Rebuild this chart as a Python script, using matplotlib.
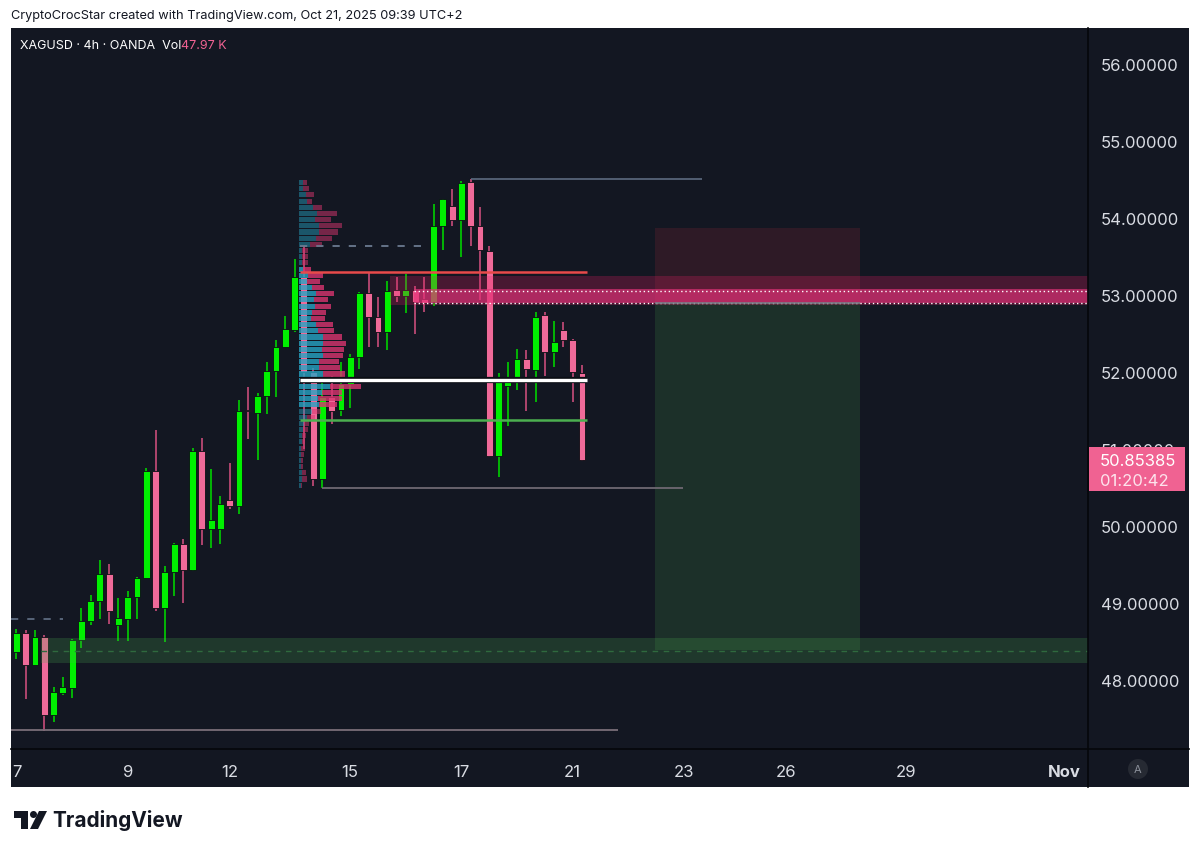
import numpy as np
import matplotlib
matplotlib.use("Agg")
import matplotlib.pyplot as plt
from matplotlib.patches import Rectangle, Polygon
from matplotlib.transforms import blended_transform_factory

plt.rcParams["font.family"] = ["Inter", "DejaVu Sans"]

# --- candles (4h XAGUSD), index 0 = Oct 7 ---
opens = [48.36, 48.61, 48.20, 48.56, 47.54, 47.83, 47.90, 48.52, 48.77, 49.03,
         49.38, 48.72, 48.79, 49.08, 49.33, 50.71, 48.94, 49.40, 49.77, 49.43,
         50.97, 49.96, 49.96, 50.34, 50.26, 51.51, 51.47, 51.69, 52.01, 52.33,
         52.55, 53.24, 52.00, 50.61, 51.68, 51.51, 51.84, 52.20, 53.02, 52.72,
         52.52, 53.07, 52.99, 53.07, 52.95, 52.91, 53.90, 54.15, 53.97, 54.47,
         53.89, 53.57, 50.91, 51.82, 51.94, 52.17, 52.03, 52.74, 52.26, 52.54,
         52.41, 51.99]
highs = [48.66, 48.65, 48.65, 48.58, 47.91, 48.04, 48.53, 48.94, 49.10, 49.56,
         49.51, 49.07, 49.15, 49.34, 50.75, 51.25, 49.48, 49.78, 49.83, 51.01,
         51.14, 50.74, 50.39, 50.82, 51.63, 51.80, 51.73, 52.13, 52.42, 52.73,
         53.47, 53.64, 52.05, 51.94, 51.95, 52.13, 52.23, 53.04, 53.30, 52.97,
         53.18, 53.23, 53.27, 53.12, 53.23, 54.18, 54.25, 54.38, 54.48, 54.50,
         54.14, 53.63, 51.99, 52.13, 52.30, 52.29, 52.78, 52.78, 52.66, 52.65,
         52.43, 52.09]
lows = [48.27, 47.75, 48.20, 47.34, 47.45, 47.81, 47.76, 48.41, 48.71, 48.79,
        48.73, 48.51, 48.51, 48.79, 49.32, 48.89, 48.50, 49.09, 49.00, 49.42,
        49.75, 49.71, 49.77, 50.22, 50.16, 51.13, 50.86, 51.45, 51.67, 52.32,
        52.52, 51.00, 50.52, 50.49, 51.32, 51.43, 51.53, 52.04, 52.32, 52.32,
        52.29, 52.91, 52.77, 52.50, 52.78, 52.86, 53.58, 53.89, 53.49, 53.63,
        52.93, 50.89, 50.63, 51.30, 51.76, 51.49, 51.61, 51.95, 52.07, 52.32,
        51.61, 50.85]
closes = [48.61, 48.20, 48.56, 47.54, 47.84, 47.91, 48.52, 48.77, 49.03, 49.38,
          48.89, 48.80, 49.08, 49.33, 50.71, 48.93, 49.40, 49.77, 49.43, 50.97,
          49.96, 50.08, 50.29, 50.26, 51.50, 51.49, 51.69, 52.01, 52.33, 52.56,
          53.24, 52.00, 50.61, 51.67, 51.49, 51.84, 52.20, 53.02, 52.72, 52.52,
          53.05, 52.99, 53.07, 52.91, 52.90, 53.89, 54.25, 53.97, 54.46, 53.89,
          53.58, 50.91, 51.92, 51.94, 52.17, 52.04, 52.72, 52.26, 52.39, 52.41,
          52.00, 50.854]
last_price = "50.85385"
countdown = "01:20:42"

tick_pos = [0, 12, 23, 36, 48, 60, 72, 83, 96, 113]
tick_lab = ["7", "9", "12", "15", "17", "21", "23", "26", "29", "Nov"]
price_ticks = [48, 49, 50, 51, 52, 53, 54, 55, 56]

# --- fixed range volume profile (rows top -> bottom) ---
vp_low, vp_high = 50.49, 54.50
vp_up = [10, 10, 20, 22, 40, 54, 47, 60, 60, 50, 32, 7, 7, 7, 12, 27, 22, 37, 50, 44,
         47, 37, 34, 50, 57, 70, 72, 67, 72, 60, 60, 72, 77, 92, 67, 57, 60, 37, 22, 14,
         10, 7, 7, 5, 5, 4, 5, 7, 7, 5]
vp_down = [12, 20, 25, 17, 27, 58, 48, 69, 57, 47, 35, 20, 20, 20, 22, 43, 40, 38, 55, 43,
           48, 43, 43, 52, 48, 57, 67, 68, 60, 59, 62, 65, 130, 92, 60, 70, 52, 27, 25, 16,
           17, 13, 10, 11, 9, 8, 5, 12, 17, 3]
vp_start = 30.5

# --- drawings ---
range_high = 54.50
swing_dash = 53.64
red_level = 53.30
poc_level = 51.90
green_level = 51.38
range_low = 50.49
bottom_level = 47.35
left_dash = 48.79
demand_zone = (48.22, 48.54)
supply_outer = (52.87, 53.25)
supply_inner = (52.90, 53.08)
supply_dots = (52.90, 53.056)
entry, stop, target = 52.90, 53.87, 48.39

BG = "#131722"
GREEN = "#00f000"
PINK = "#ef6a99"
TXT = "#d9dce3"

W, H = 1200, 853
fig = plt.figure(figsize=(W / 100, H / 100), dpi=100)
fig.patch.set_facecolor("white")


def fx(px):
    return px / W


def fy(py):
    return 1 - py / H


# dark panel
fig.patches.append(Rectangle((fx(11), fy(788)), fx(1189) - fx(11), fy(29) - fy(788),
                             transform=fig.transFigure, facecolor=BG, edgecolor="none", zorder=-1))

ax = fig.add_axes([fx(11), fy(750), fx(1088) - fx(11), fy(29) - fy(750)])
ax.set_facecolor(BG)
ax.set_xlim(-0.593, 115.59)
ax.set_ylim(47.104, 56.4675)
for s in ax.spines.values():
    s.set_visible(False)

n = len(opens)
idx = np.arange(n)
o = np.array(opens); c = np.array(closes); h = np.array(highs); l = np.array(lows)
up = c >= o
cols = np.where(up, GREEN, PINK)
wick_cols = np.where(up, "#00d000", "#c94d7a")

ax.vlines(idx, l, h, colors=wick_cols, linewidth=1.2, zorder=3)
body_bot = np.minimum(o, c)
body_h = np.maximum(np.abs(c - o), 0.02)
ax.bar(idx, body_h, bottom=body_bot, width=0.74, color=cols, edgecolor="#0b0e14",
       linewidth=0.6, zorder=4)

# volume profile
edges = np.linspace(vp_high, vp_low, len(vp_up) + 1)
centers = (edges[:-1] + edges[1:]) / 2
step = abs(edges[0] - edges[1])
tot = np.array(vp_up) + np.array(vp_down)
scale = 7.44 / tot.max()
va = np.zeros(len(vp_up), bool)
va[14:37] = True
for k in range(len(vp_up)):
    a_t = 0.8 if va[k] else 0.45
    a_p = 0.8 if va[k] else 0.5
    wu = vp_up[k] * scale
    wd = vp_down[k] * scale
    ax.barh(centers[k], wu, left=vp_start, height=step * 0.82, color="#26a4c4",
            alpha=a_t, linewidth=0, zorder=5)
    ax.barh(centers[k], wd, left=vp_start + wu, height=step * 0.82, color="#d8356f",
            alpha=a_p, linewidth=0, zorder=5)

# zones
right_end = 115.59
ax.add_patch(Rectangle((2.64, demand_zone[0]), right_end - 2.64, demand_zone[1] - demand_zone[0],
                       facecolor="#4caf50", alpha=0.22, edgecolor="none", zorder=6))
ax.hlines(sum(demand_zone) / 2, 2.64, right_end, colors="#2f6a3e", linewidth=1,
          linestyles=(0, (4, 4)), zorder=6)

ax.add_patch(Rectangle((40.3, supply_outer[0]), right_end - 40.3, supply_outer[1] - supply_outer[0],
                       facecolor="#e91e63", alpha=0.25, edgecolor="none", zorder=6))
ax.add_patch(Rectangle((42.9, supply_inner[0]), right_end - 42.9, supply_inner[1] - supply_inner[0],
                       facecolor="#e5337a", alpha=0.65, edgecolor="none", zorder=6))
for lv in supply_dots:
    ax.hlines(lv, 42.9, right_end, colors="white", linewidth=1.0,
              linestyles=(0, (1, 2)), zorder=7)

# long position box
ax.add_patch(Rectangle((68.9, entry), 91.0 - 68.9, stop - entry,
                       facecolor="#f23645", alpha=0.12, edgecolor="none", zorder=2))
ax.add_patch(Rectangle((68.9, target), 91.0 - 68.9, entry - target,
                       facecolor="#4caf50", alpha=0.17, edgecolor="none", zorder=2))
ax.hlines(entry, 68.9, 91.0, colors="#787b86", linewidth=1.2, zorder=7)

# horizontal lines
ax.hlines(range_high, 49, 73.95, colors="#5d6b80", linewidth=1.2, zorder=7)
ax.hlines(swing_dash, 30.6, 44.3, colors="#6b7a90", linewidth=1.3,
          linestyles=(0, (4, 5)), zorder=7)
ax.hlines(red_level, 30.6, 61.55, colors="#e84a4a", linewidth=1.8, zorder=7)
ax.hlines(poc_level, 30.6, 61.55, colors="#0b0e14", linewidth=4.5, zorder=7)
ax.hlines(poc_level, 30.6, 61.55, colors="white", linewidth=2.4, zorder=8)
ax.hlines(green_level, 30.6, 61.55, colors="#4caf50", linewidth=1.8, zorder=7)
ax.hlines(range_low, 32.96, 71.9, colors="#6e6872", linewidth=1.3, zorder=7)
ax.hlines(bottom_level, -0.6, 64.9, colors="#7a6e78", linewidth=1.3, zorder=7)
ax.hlines(left_dash, -0.6, 5.0, colors="#5d6b80", linewidth=1.3,
          linestyles=(0, (4, 5)), zorder=7)

# axes ticks
ax.yaxis.tick_right()
ax.set_yticks(price_ticks)
ax.set_yticklabels([f"{v:.5f}" for v in price_ticks])
ax.tick_params(axis="y", length=0, pad=9, labelsize=12, labelcolor=TXT)
ax.set_xticks(tick_pos)
ax.set_xticklabels(tick_lab)
ax.tick_params(axis="x", length=0, pad=11, labelsize=12, labelcolor=TXT)
for t in ax.get_xticklabels():
    if t.get_text() == "Nov":
        t.set_fontweight("bold")

# last price label (covers most of the 51 tick label, as in the original)
bt = blended_transform_factory(ax.transAxes, ax.transData)
ppx = 1 / 77.0
ax.add_patch(Rectangle((1.0007, closes[-1] - 31 * ppx), 0.0891, 44 * ppx, transform=bt,
                       facecolor="#f06292", edgecolor="none", clip_on=False, zorder=20))
ax.text(1.011, closes[-1] - 0.5 * ppx, last_price, transform=bt, color="white",
        fontsize=12, va="center", ha="left", clip_on=False, zorder=21)
ax.text(1.011, closes[-1] - 20.5 * ppx, countdown, transform=bt, color="#fde3ec",
        fontsize=12, va="center", ha="left", clip_on=False, zorder=21)

# separators
fig.add_artist(plt.Line2D([fx(1088), fx(1088)], [fy(29), fy(788)], transform=fig.transFigure,
                          color="#05070a", linewidth=1.2))
fig.add_artist(plt.Line2D([fx(11), fx(1189)], [fy(750), fy(750)], transform=fig.transFigure,
                          color="#05070a", linewidth=1.2))

fig.text(fx(1138), fy(770), "A", ha="center", va="center", fontsize=8, color="#8a8f99",
         bbox=dict(boxstyle="circle,pad=0.45", fc="#262a33", ec="none"))

# header & legend
fig.text(fx(11), fy(16), "CryptoCrocStar created with TradingView.com, Oct 21, 2025 09:39 UTC+2",
         fontsize=9.2, color="#131722", va="center", ha="left")
t1 = fig.text(fx(20), fy(46), "XAGUSD · 4h · OANDA  Vol", fontsize=9.0, color="white",
              va="center", ha="left")
fig.canvas.draw()
bb = t1.get_window_extent()
fig.text(bb.x1 / W, fy(46), "47.97 K", fontsize=9.0, color="#f06292", va="center", ha="left")

# TradingView logo
lx = fig.add_axes([fx(14), fy(832), fx(48) - fx(14), fy(810) - fy(832)])
lx.set_xlim(0, 34); lx.set_ylim(0, 22); lx.axis("off")
lx.add_patch(Polygon([(0, 20), (14, 20), (14, 2), (7, 2), (7, 13), (0, 13)], closed=True,
                     fc="#131722", ec="none"))
lx.add_patch(plt.Circle((19.5, 16.5), 3.5, fc="#131722", ec="none"))
lx.add_patch(Polygon([(25, 20), (33, 20), (24, 2), (16, 2)], closed=True, fc="#131722", ec="none"))
fig.text(fx(52), fy(821), "TradingView", fontsize=15, fontweight="bold", color="#131722",
         va="center", ha="left")

fig.savefig("out.png", dpi=100, facecolor="white")
